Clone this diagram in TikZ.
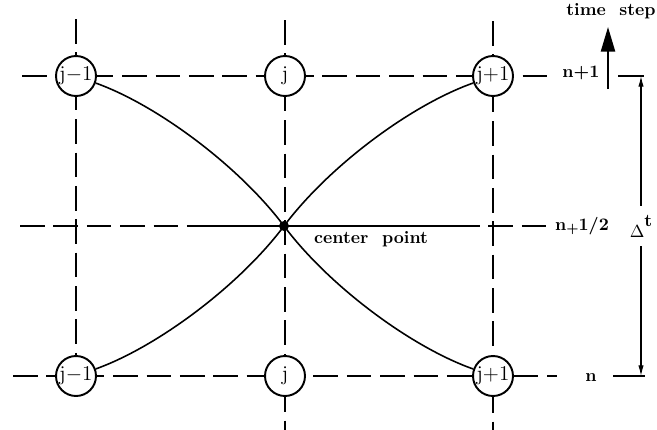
\documentclass[tikz,border=0pt]{standalone}
\usepackage{tikz}
\usetikzlibrary{arrows.meta, positioning, calc}

\begin{document}
\begin{tikzpicture}[x=0.02cm, y=-0.02cm,
    every node/.style={font=\bfseries},
    gridline/.style={line width=1pt, dash pattern=on 14pt off 5pt},
    meshpt/.style={circle, draw, fill=white, line width=1.1pt, minimum size=0.8cm, inner sep=0pt, font=\large},
    arc/.style={line width=0.9pt},
    tick/.style={line width=0.7pt},
    dtarrow/.style={{Latex[length=6pt,width=3pt]}-{Latex[length=6pt,width=3pt]}, line width=0.6pt},
    steparrow/.style={-{Triangle[length=14pt,width=8pt]}, line width=1.2pt}
]
\useasboundingbox (0,0) rectangle (657,430);

% grid line ends
\coordinate (cm1t) at (76,19);   \coordinate (cm1b) at (76,376);
\coordinate (c0t)  at (285,20);  \coordinate (c0b)  at (285,430);
\coordinate (cp1t) at (493,21);  \coordinate (cp1b) at (493,430);
\coordinate (rtopl) at (22,76);  \coordinate (rtopr) at (548,76);
\coordinate (rmidl) at (20,226); \coordinate (rmida) at (200,226);
\coordinate (rmidb) at (455,226); \coordinate (rmidr) at (547,226);
\coordinate (rbotl) at (13,376); \coordinate (rbotr) at (557,376);

% dashed mesh
\draw[gridline] (cm1t) -- (cm1b);
\draw[gridline] (c0t) -- (c0b);
\draw[gridline] (cp1t) -- (cp1b);
\draw[gridline] (rtopl) -- (rtopr);
\draw[gridline] (rbotl) -- (rbotr);
\draw[gridline] (rmidl) -- (rmida);
\draw[line width=1pt] (rmida) -- (rmidb);
\draw[gridline] (rmidb) -- (rmidr);

% mesh points
\node[meshpt] (jm1top) at (76,76) {j$-$1};
\node[meshpt] (jtop) at (285,76) {j};
\node[meshpt] (jp1top) at (493,76) {j$+$1};
\node[meshpt] (jm1bot) at (76,376) {j$-$1};
\node[meshpt] (jbot) at (285,376) {j};
\node[meshpt] (jp1bot) at (493,376) {j$+$1};

% center point
\node[circle, fill, inner sep=0pt, minimum size=0.2cm] (cp) at (284,226) {};
\node[anchor=west] (cplabel) at (308,239) {center\ \ point};

% characteristic arcs
\draw[arc] (jm1top) .. controls (157,105) and (239,166) .. (cp.center)
                    .. controls (329,286) and (411,347) .. (jp1bot);
\draw[arc] (jp1top) .. controls (411,105) and (329,166) .. (cp.center)
                    .. controls (239,286) and (157,347) .. (jm1bot);

% time level labels
\node (ntop) at (581,73) {n+1};
\node (nmid) at (582,226) {n\raisebox{-0.3ex}{\scriptsize+}1/2};
\node (nbot) at (591,378) {n};

% time step arrow
\coordinate (tsbase) at (608,89);
\coordinate (tstip) at (608,27);
\draw[steparrow] (tsbase) -- (tstip);
\node (tslabel) at (611,11) {time\ \ step};

% delta t
\coordinate (tka) at (618,76);  \coordinate (tkb) at (644,76);
\coordinate (tkc) at (613,376); \coordinate (tkd) at (645,376);
\draw[tick] (tka) -- (tkb);
\draw[tick] (tkc) -- (tkd);
\coordinate (dttop) at (641,76);
\coordinate (dtbot) at (641,376);
\draw[dtarrow] (dttop) -- node[fill=white, inner sep=1pt, minimum height=0.8cm] (dt)
    {\raisebox{-0.8ex}{\mdseries$\Delta$}\raisebox{0.6ex}{t}} (dtbot);

\end{tikzpicture}
\end{document}
